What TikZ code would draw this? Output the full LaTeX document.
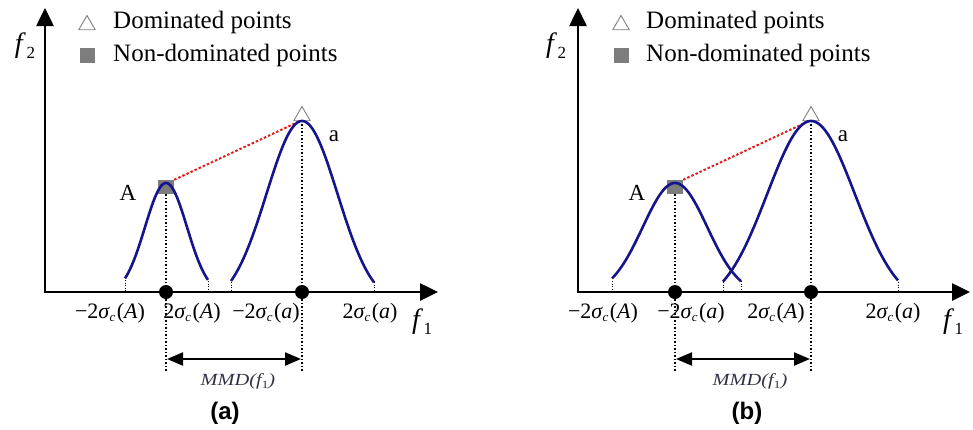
\documentclass[tikz,border=0pt]{standalone}
\usepackage{fontspec}
\setmainfont{Liberation Serif}
\newfontfamily\capfont{Liberation Sans}
\usetikzlibrary{arrows.meta,shapes.geometric}
\definecolor{curveblue}{RGB}{20,20,140}
\definecolor{ndgray}{RGB}{125,125,125}
\definecolor{linkred}{RGB}{225,30,30}
\definecolor{mmdgray}{RGB}{50,50,70}
\newcommand\sgc[1]{\textit{σ}\kern-0.5pt\raisebox{-0.35ex}{\fontsize{13}{13}\selectfont\textit{c}}\kern1.5pt(\textit{#1})}
\newcommand\fsub[1]{\textit{f}\kern0.5pt\raisebox{-0.45ex}{\fontsize{17}{17}\selectfont #1}}
\newcommand\mmdtext{\scalebox{1.2}[1]{MMD(\textit{f}\raisebox{-0.4ex}{\fontsize{11}{11}\selectfont\upshape 1})}}
\begin{document}
\begin{tikzpicture}[x=1pt,y=-1pt,
  axisline/.style={line width=2.6pt,-{Triangle[length=18pt,width=17pt]}},
  curve/.style={line width=2.6pt,draw=curveblue,samples=90,smooth},
  guide/.style={line width=1.5pt,dash pattern=on 1.5pt off 2pt},
  endtick/.style={line width=1pt,dash pattern=on 1pt off 1.5pt},
  link/.style={line width=2pt,dash pattern=on 2.5pt off 2pt,draw=linkred},
  dimarrow/.style={line width=2.2pt,{Triangle[length=16pt,width=13pt]}-{Triangle[length=16pt,width=13pt]}},
  dotpt/.style={circle,fill=black,inner sep=0pt,minimum size=14pt},
  ndpt/.style={rectangle,fill=ndgray,inner sep=0pt,minimum width=16pt,minimum height=14pt},
  legnd/.style={rectangle,fill=ndgray,inner sep=0pt,minimum size=15pt},
  dompt/.style={regular polygon,regular polygon sides=3,draw=gray,fill=white,line width=0.9pt,inner sep=0pt,minimum size=19pt},
  ticklab/.style={font=\fontsize{22}{24}\selectfont,inner sep=0pt},
  leglab/.style={font=\fontsize{25}{28}\selectfont,anchor=west,inner sep=0pt},
  ptlab/.style={font=\fontsize{23}{26}\selectfont,inner sep=0pt},
  axlab/.style={font=\fontsize{28}{30}\selectfont,inner sep=0pt},
  mmdlab/.style={font=\fontsize{17}{20}\selectfont\itshape,text=mmdgray,inner sep=0pt},
  caplab/.style={font=\fontsize{24}{26}\selectfont\capfont\bfseries,inner sep=0pt}
]
\useasboundingbox (0,0) rectangle (973,429);

% ================= panel (a) =================
\coordinate (Oa) at (45,292);
\coordinate (Ya) at (45,8);
\coordinate (Xa) at (438,292);
\draw[axisline] (Oa) -- (Ya);
\draw[axisline] ([xshift=-1.3pt]Oa) -- (Xa);
\node[axlab] (f2a) at (25,46) {\fsub{2}};
\node[axlab] (f1a) at (422,322) {\fsub{1}};

\node[dompt] (legdoma) at (87,25) {};
\node[leglab] (legdomta) at (113,22) {Dominated points};
\node[legnd] (legnda) at (87,55) {};
\node[leglab] (legndta) at (113,55) {Non-dominated points};

\node[ndpt] (Aa) at (166,187) {};
\node[dompt] (pa) at (302,116) {};
\coordinate (peakaa) at (298,122);
\draw[link] (Aa.north east) -- (peakaa);

\draw[curve,domain=125:208] plot (\x,{295-112*exp(-((\x-166)^2)/882)});
\draw[curve,domain=231:374] plot (\x,{306-185*exp(-((\x-302)^2)/2520)});
\draw[endtick] (125,280) -- (125,292);
\draw[endtick] (208,281) -- (208,292);
\draw[endtick] (231,282) -- (231,292);
\draw[endtick] (374,282) -- (374,292);

\node[ptlab] (Alaba) at (128,193) {A};
\node[ptlab] (alaba) at (334,136) {a};

\node[dotpt] (da1) at (166,292) {};
\node[dotpt] (da2) at (302,292) {};
\coordinate (ga1) at (166,372);
\coordinate (ga2) at (302,372);
\draw[guide] (Aa.south) -- (ga1);
\draw[guide] (302,124) -- (ga2);
\coordinate (ma1) at (167,359);
\coordinate (ma2) at (301,359);
\draw[dimarrow] (ma1) -- (ma2);
\node[mmdlab] (mmda) at (238,381) {\mmdtext};

\node[ticklab] (ta1) at (110,313) {−2\sgc{A}};
\node[ticklab] (ta2) at (192,313) {2\sgc{A}};
\node[ticklab] (ta3) at (266,313) {−2\sgc{a}};
\node[ticklab] (ta4) at (370,313) {2\sgc{a}};

\node[caplab] (capa) at (225,413) {(a)};

% ================= panel (b) =================
\coordinate (Ob) at (578,292);
\coordinate (Yb) at (578,8);
\coordinate (Xb) at (970,292);
\draw[axisline] (Ob) -- (Yb);
\draw[axisline] ([xshift=-1.3pt]Ob) -- (Xb);
\node[axlab] (f2b) at (556,46) {\fsub{2}};
\node[axlab] (f1b) at (953,322) {\fsub{1}};

\node[dompt] (legdomb) at (621,25) {};
\node[leglab] (legdomtb) at (646,22) {Dominated points};
\node[legnd] (legndb) at (621,55) {};
\node[leglab] (legndtb) at (646,55) {Non-dominated points};

\node[ndpt] (Ab) at (675,187) {};
\node[dompt] (pb) at (811,116) {};
\coordinate (peakab) at (807,122);
\draw[link] (Ab.north east) -- (peakab);

\draw[curve,domain=612:741] plot (\x,{295-112*exp(-((\x-675)^2)/2080)});
\draw[curve,domain=723:898] plot (\x,{306-185*exp(-((\x-811)^2)/3828)});
\draw[endtick] (612,281) -- (612,292);
\draw[endtick] (741,281) -- (741,292);
\draw[endtick] (723,282) -- (723,292);
\draw[endtick] (898,282) -- (898,292);

\node[ptlab] (Alabb) at (637,193) {A};
\node[ptlab] (alabb) at (843,136) {a};

\node[dotpt] (db1) at (675,292) {};
\node[dotpt] (db2) at (811,292) {};
\coordinate (gb1) at (675,372);
\coordinate (gb2) at (811,372);
\draw[guide] (Ab.south) -- (gb1);
\draw[guide] (811,124) -- (gb2);
\coordinate (mb1) at (676,359);
\coordinate (mb2) at (810,359);
\draw[dimarrow] (mb1) -- (mb2);
\node[mmdlab] (mmdb) at (750,381) {\mmdtext};

\node[ticklab] (tb1) at (603,313) {−2\sgc{A}};
\node[ticklab] (tb2) at (691,313) {−2\sgc{a}};
\node[ticklab] (tb3) at (776,313) {2\sgc{A}};
\node[ticklab] (tb4) at (893,313) {2\sgc{a}};

\node[caplab] (capb) at (747,413) {(b)};
\end{tikzpicture}
\end{document}
